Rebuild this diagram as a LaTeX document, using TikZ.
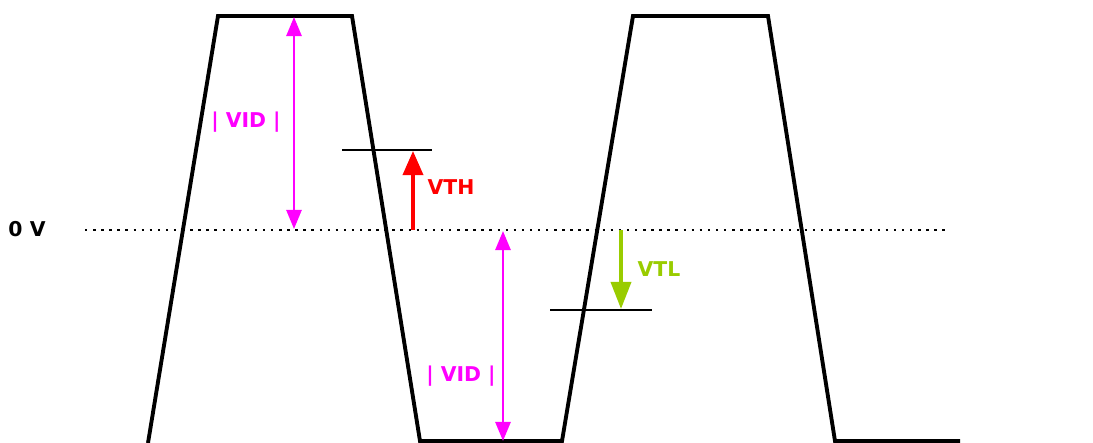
\documentclass[tikz,border=0pt]{standalone}
\usepackage{fontspec}
\setsansfont{DejaVu Sans}
\usetikzlibrary{arrows.meta}
\definecolor{vidmag}{RGB}{255,0,255}
\definecolor{vthred}{RGB}{255,0,0}
\definecolor{vtlgreen}{RGB}{153,204,0}

\begin{document}
\begin{tikzpicture}[x=0.01cm,y=-0.01cm,
  wave/.style={line width=1.1pt,line join=miter},
  level/.style={line width=0.7pt},
  lbl/.style={font=\sffamily\bfseries\fontsize{5.8}{7}\selectfont,inner sep=0pt}]
\useasboundingbox (0,0) rectangle (1093,443);

% waveform corners
\coordinate (P1) at (148,443);
\coordinate (P2) at (218,16);
\coordinate (P3) at (352,16);
\coordinate (P4) at (420,441);
\coordinate (P5) at (562,441);
\coordinate (P6) at (633,16);
\coordinate (P7) at (768,16);
\coordinate (P8) at (835,441);
\coordinate (P9) at (960,441);
\draw[wave] (P1) -- (P2) -- (P3) -- (P4) -- (P5) -- (P6) -- (P7) -- (P8) -- (P9);

% zero line
\coordinate (ZL) at (85,230);
\coordinate (ZR) at (950,230);
\draw[line width=0.7pt,dash pattern=on 0.7pt off 1.6pt] (ZL) -- (ZR);
\node[lbl] (zero) at (27,229) {0 V};

% thresholds
\coordinate (THa) at (342,150);
\coordinate (THb) at (432,150);
\coordinate (TLa) at (550,310);
\coordinate (TLb) at (652,310);
\draw[level] (THa) -- (THb);
\draw[level] (TLa) -- (TLb);

% VID arrows
\coordinate (A1) at (294,17);
\coordinate (A2) at (294,229);
\coordinate (B1) at (503,231);
\coordinate (B2) at (503,441);
\draw[vidmag,line width=0.75pt,{Triangle[length=0.19cm,width=0.15cm]}-{Triangle[length=0.19cm,width=0.15cm]}] (A1) -- (A2);
\draw[vidmag,line width=0.75pt,{Triangle[length=0.19cm,width=0.15cm]}-{Triangle[length=0.19cm,width=0.15cm]}] (B1) -- (B2);
\node[lbl,text=vidmag] (vid1) at (246,122) {| VID |};
\node[lbl,text=vidmag] (vid2) at (461,376) {| VID |};

% VTH / VTL arrows
\coordinate (R1) at (413,230);
\coordinate (R2) at (413,151);
\coordinate (G1) at (621,230);
\coordinate (G2) at (621,309);
\draw[vthred,line width=1pt,-{Triangle[length=0.24cm,width=0.2cm]}] (R1) -- (R2);
\draw[vtlgreen,line width=1pt,-{Triangle[length=0.27cm,width=0.2cm]}] (G1) -- (G2);
\node[lbl,text=vthred,anchor=west] (vth) at (427,187) {VTH};
\node[lbl,text=vtlgreen,anchor=west] (vtl) at (637,269) {VTL};
\end{tikzpicture}
\end{document}
